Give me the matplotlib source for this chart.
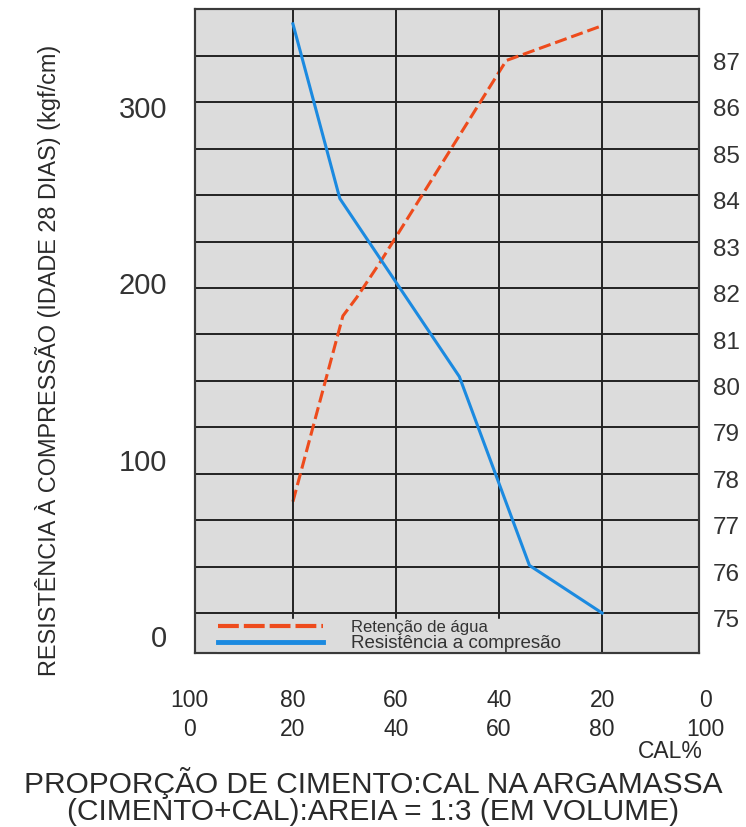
import numpy as np
import matplotlib.pyplot as plt
from matplotlib.transforms import ScaledTranslation

# bottom scale: cement % on the first row, lime (CAL) % on the second
cement_pct = [100, 80, 60, 40, 20, 0]
cal_pct = [0, 20, 40, 60, 80, 100]

# Resistência a compressão (kgf/cm) - left axis
res_x = [80, 70.9, 47.7, 34.1, 20]
res_y = [347, 248, 147, 40, 13]

# Retenção de água (%) - right axis
ret_x = [80, 70.3, 67.6, 63.1, 38.6, 20]
ret_y = [77.4, 81.4, 81.8, 82.55, 86.9, 87.65]

left_ticks = [0, 100, 200, 300]
right_ticks = list(range(75, 88))
grid_x = [80, 60, 40, 20]

plt.rcParams['font.family'] = ['Liberation Sans', 'DejaVu Sans']

bg = '#dcdcdc'
red = '#ee4b1c'
blue = '#1b8ae0'
gridc = '#222222'
txt = '#2a2a2a'

fig = plt.figure(figsize=(7.46, 8.27), dpi=100)
ax = fig.add_axes([0.2614, 0.2104, 0.6756, 0.7793])
ax2 = ax.twinx()

# left axes on top so the blue line sits above everything
ax.set_zorder(ax2.get_zorder() + 1)
ax.patch.set_visible(False)
ax2.patch.set_visible(True)
ax2.patch.set_facecolor(bg)

ax.set_xlim(99, 1.2)
ax.set_ylim(-9.64, 355.7)
ax2.set_ylim(74.14, 88.02)

# grid
ax.set_xticks(grid_x)
ax.set_xticklabels([])
ax.grid(axis='x', color=gridc, lw=1.4)
ax.set_yticks(left_ticks)
ax.tick_params(axis='y', length=0, pad=20, labelsize=21, labelcolor='#333333')
ax.tick_params(axis='x', length=0)
ax2.set_yticks(right_ticks)
ax2.grid(axis='y', color=gridc, lw=1.4)
ax2.tick_params(axis='y', length=0, pad=10, labelsize=17.5, labelcolor='#333333')
# right labels sit a little under their grid lines
for lab in ax2.get_yticklabels():
    lab.set_transform(lab.get_transform() + ScaledTranslation(0, -4 / 72, fig.dpi_scale_trans))

for a in (ax, ax2):
    for s in a.spines.values():
        s.set_color('#3a3a3a')
        s.set_linewidth(1.5)
        s.set_zorder(6)

l_ret, = ax2.plot(ret_x, ret_y, color=red, lw=2.2, dashes=(4, 1.6),
                  label='Retenção de água', zorder=3)
l_res, = ax.plot(res_x, res_y, color=blue, lw=2.2,
                 label='Resistência a compresão', zorder=3)

# legend handles are drawn thicker than the plot lines
h_ret = plt.Line2D([], [], color=red, lw=3, dashes=(5, 1.2))
h_res = plt.Line2D([], [], color=blue, lw=3.5)
leg = ax.legend([h_ret, h_res], [l_ret.get_label(), l_res.get_label()],
                loc='lower left', bbox_to_anchor=(0.044, 0), borderaxespad=0,
                borderpad=0.05, labelspacing=0, handlelength=5.8,
                handletextpad=1.55, fontsize=13, fancybox=False,
                facecolor=bg, edgecolor=bg, framealpha=1)
leg.get_texts()[0].set_fontsize(12)
leg.get_texts()[1].set_fontsize(13.5)
for t in leg.get_texts():
    t.set_color('#333333')

# two-row bottom scale
trans = ax.get_xaxis_transform()
for x, c, l in zip(cement_pct, cement_pct, cal_pct):
    ax.text(x, -0.073, str(c), transform=trans, ha='center', va='center',
            fontsize=16.5, color=txt)
    ax.text(x, -0.118, str(l), transform=trans, ha='center', va='center',
            fontsize=16.5, color=txt)

fig.text(0.898, 0.0907, 'CAL%', ha='center', va='center', fontsize=16.5,
         color=txt)
fig.text(0.5, 0.037, 'PROPORÇÃO DE CIMENTO:CAL NA ARGAMASSA\n'
         '(CIMENTO+CAL):AREIA = 1:3 (EM VOLUME)', ha='center', va='center',
         multialignment='center', linespacing=0.93, fontsize=21.5, color=txt)

fig.text(0.064, 0.5647, 'RESISTÊNCIA À COMPRESSÃO (IDADE 28 DIAS) (kgf/cm)',
         rotation=90, ha='center', va='center', fontsize=16.9, color=txt)

fig.savefig('out.png', dpi=100)
